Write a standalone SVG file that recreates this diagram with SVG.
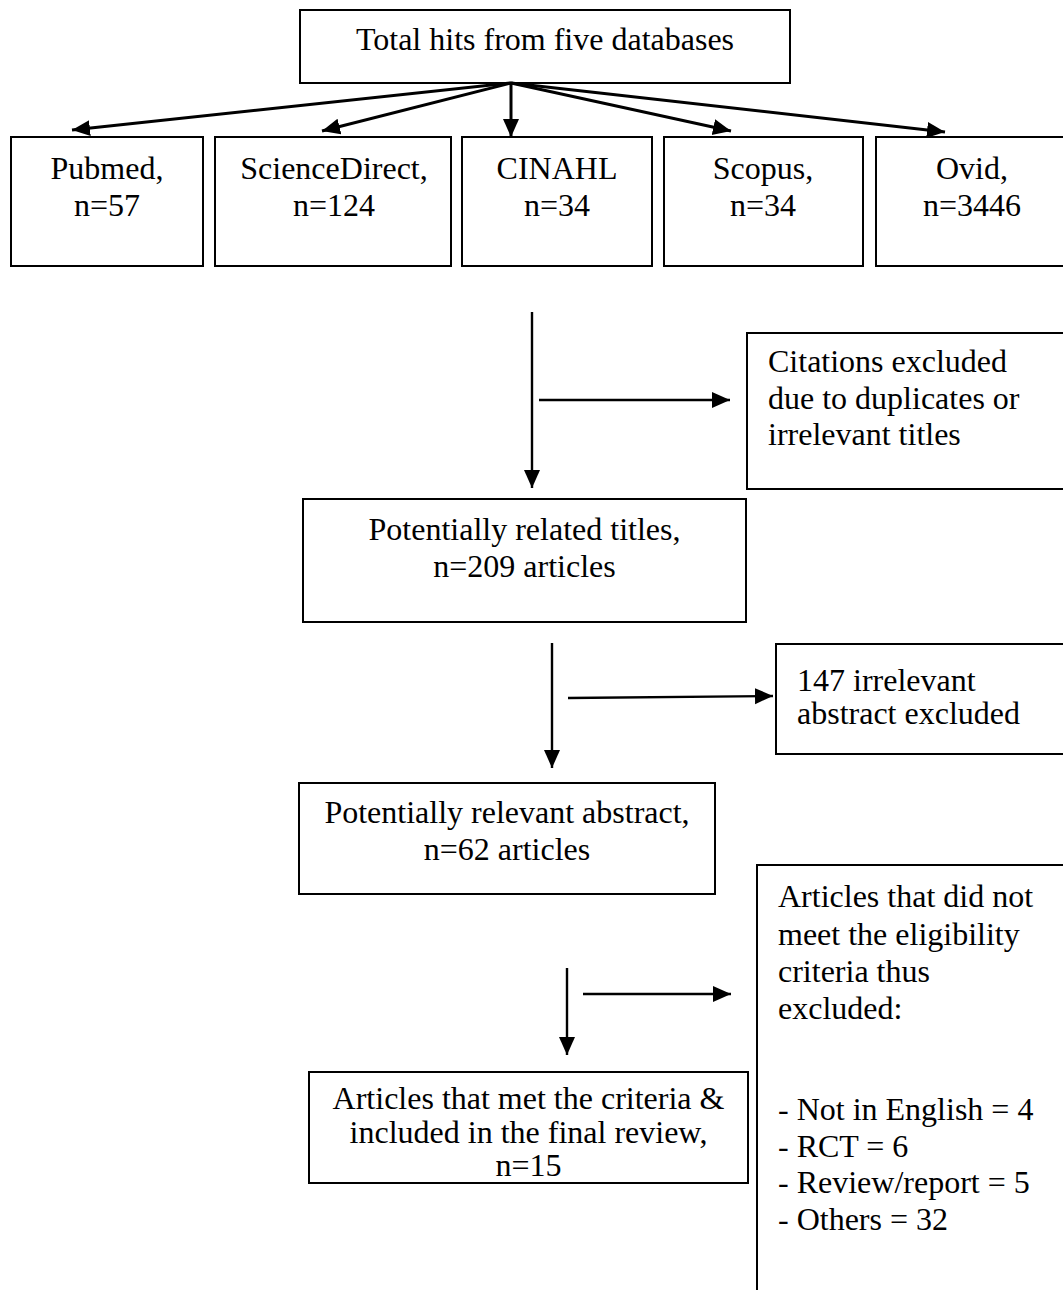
<svg xmlns="http://www.w3.org/2000/svg" width="1063" height="1290" viewBox="0 0 1063 1290">
<style>
  .box { fill: #fff; stroke: #000; stroke-width: 2; }
  .t { font-family: "Liberation Serif", "Times New Roman", serif; font-size: 32px; fill: #000; }
  .c { text-anchor: middle; }
  .ln { stroke: #000; stroke-width: 2.4; fill: none; }
  .dg { stroke-width: 3; }
</style>
<defs>
  <marker id="ah" markerUnits="userSpaceOnUse" markerWidth="20" markerHeight="18" refX="18" refY="8" orient="auto">
    <path d="M0,0 L18,8 L0,16 z" fill="#000"/>
  </marker>
</defs>
<rect width="1063" height="1290" fill="#fff"/>

<g id="total">
  <rect class="box" x="300" y="10" width="490" height="73"/>
  <text class="t c" x="545" y="50">Total hits from five databases</text>
</g>
<g id="pubmed">
  <rect class="box" x="11" y="137" width="192" height="129"/>
  <text class="t c" x="107" y="179">Pubmed,</text>
  <text class="t c" x="107" y="216">n=57</text>
</g>
<g id="sciencedirect">
  <rect class="box" x="215" y="137" width="236" height="129"/>
  <text class="t c" x="334" y="179">ScienceDirect,</text>
  <text class="t c" x="334" y="216">n=124</text>
</g>
<g id="cinahl">
  <rect class="box" x="462" y="137" width="190" height="129"/>
  <text class="t c" x="557" y="179">CINAHL</text>
  <text class="t c" x="557" y="216">n=34</text>
</g>
<g id="scopus">
  <rect class="box" x="664" y="137" width="199" height="129"/>
  <text class="t c" x="763" y="179">Scopus,</text>
  <text class="t c" x="763" y="216">n=34</text>
</g>
<g id="ovid">
  <rect class="box" x="876" y="137" width="194" height="129"/>
  <text class="t c" x="972" y="179">Ovid,</text>
  <text class="t c" x="972" y="216">n=3446</text>
</g>
<g id="citations">
  <rect class="box" x="747" y="333" width="330" height="156"/>
  <text class="t" x="768" y="372">Citations excluded</text>
  <text class="t" x="768" y="409">due to duplicates or</text>
  <text class="t" x="768" y="445">irrelevant titles</text>
</g>
<g id="related">
  <rect class="box" x="303" y="499" width="443" height="123"/>
  <text class="t c" x="524.5" y="540">Potentially related titles,</text>
  <text class="t c" x="524.5" y="577">n=209 articles</text>
</g>
<g id="irrelevant">
  <rect class="box" x="776" y="644" width="300" height="110"/>
  <text class="t" x="797" y="691">147 irrelevant</text>
  <text class="t" x="797" y="724">abstract excluded</text>
</g>
<g id="relevant">
  <rect class="box" x="299" y="783" width="416" height="111"/>
  <text class="t c" x="507" y="823">Potentially relevant abstract,</text>
  <text class="t c" x="507" y="860">n=62 articles</text>
</g>
<g id="ineligible">
  <rect class="box" x="757" y="865" width="320" height="440"/>
  <text class="t" x="778" y="907">Articles that did not</text>
  <text class="t" x="778" y="945">meet the eligibility</text>
  <text class="t" x="778" y="982">criteria thus</text>
  <text class="t" x="778" y="1019">excluded:</text>
  <text class="t" x="778" y="1120">- Not in English = 4</text>
  <text class="t" x="778" y="1157">- RCT = 6</text>
  <text class="t" x="778" y="1193">- Review/report = 5</text>
  <text class="t" x="778" y="1230">- Others = 32</text>
</g>
<g id="included">
  <rect class="box" x="309" y="1072" width="439" height="111"/>
  <text class="t c" x="528.5" y="1109">Articles that met the criteria &amp;</text>
  <text class="t c" x="528.5" y="1143">included in the final review,</text>
  <text class="t c" x="528.5" y="1176">n=15</text>
</g>

<g id="connectors">
  <line class="ln dg" x1="511" y1="83" x2="72" y2="130" marker-end="url(#ah)"/>
  <line class="ln dg" x1="511" y1="83" x2="322" y2="131" marker-end="url(#ah)"/>
  <line class="ln dg" x1="511" y1="83" x2="511" y2="137" marker-end="url(#ah)"/>
  <line class="ln dg" x1="511" y1="83" x2="731" y2="131" marker-end="url(#ah)"/>
  <line class="ln dg" x1="511" y1="83" x2="945" y2="132" marker-end="url(#ah)"/>
  <line class="ln" x1="532" y1="312" x2="532" y2="488" marker-end="url(#ah)"/>
  <line class="ln" x1="539" y1="400" x2="730" y2="400" marker-end="url(#ah)"/>
  <line class="ln" x1="552" y1="643" x2="552" y2="768" marker-end="url(#ah)"/>
  <line class="ln" x1="568" y1="698" x2="773" y2="696" marker-end="url(#ah)"/>
  <line class="ln" x1="567" y1="968" x2="567" y2="1055" marker-end="url(#ah)"/>
  <line class="ln" x1="583" y1="994" x2="731" y2="994" marker-end="url(#ah)"/>
</g>
</svg>
